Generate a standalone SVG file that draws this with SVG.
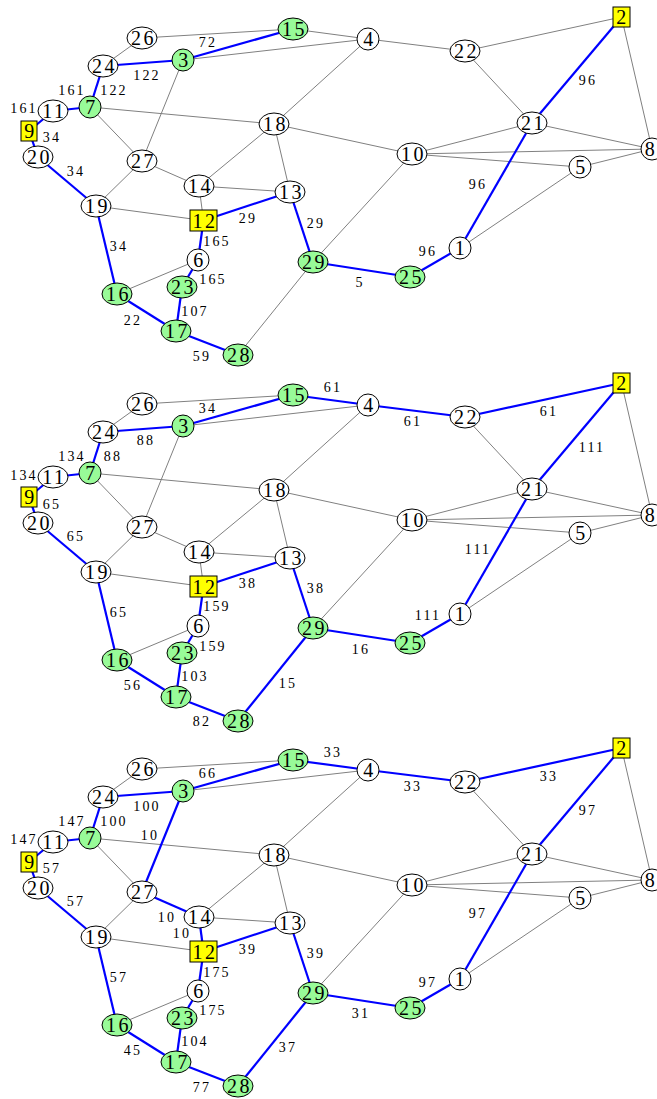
<svg xmlns="http://www.w3.org/2000/svg" width="657" height="1099" viewBox="0 0 657 1099">
<style>
  .bg { fill: #ffffff; }
  .e { stroke: #808080; stroke-width: 1; fill: none; }
  .b { stroke: #0000ff; stroke-width: 2.2; fill: none; }
  .w { fill: #ffffff; stroke: #000000; stroke-width: 1; }
  .g { fill: #98fb98; stroke: #000000; stroke-width: 1; }
  .y { fill: #ffff00; stroke: #000000; stroke-width: 1; }
  .nt { font-family: "Liberation Serif", "Times New Roman", serif; font-size: 20px; letter-spacing: 2.5px; text-anchor: middle; fill: #000000; }
  .lt { font-family: "Liberation Serif", "Times New Roman", serif; font-size: 14px; letter-spacing: 2.2px; text-anchor: middle; fill: #000000; }
</style>
<rect class="bg" x="0" y="0" width="657" height="1099"/>

<!-- ===== Panel 1 ===== -->
<g id="panel1" transform="translate(0,0)">
  <g id="p1-edges">
    <line class="e" x1="142" y1="38" x2="103" y2="66"/>
    <line class="e" x1="142" y1="38" x2="293" y2="29"/>
    <line class="e" x1="183" y1="60" x2="368" y2="39"/>
    <line class="e" x1="293" y1="29" x2="368" y2="39"/>
    <line class="e" x1="368" y1="39" x2="465" y2="51"/>
    <line class="e" x1="368" y1="39" x2="274" y2="124"/>
    <line class="e" x1="465" y1="51" x2="621.5" y2="17"/>
    <line class="e" x1="465" y1="51" x2="532" y2="123"/>
    <line class="e" x1="621.5" y1="17" x2="652" y2="149"/>
    <line class="e" x1="532" y1="123" x2="412" y2="154"/>
    <line class="e" x1="532" y1="123" x2="652" y2="149"/>
    <line class="e" x1="412" y1="154" x2="652" y2="149"/>
    <line class="e" x1="412" y1="154" x2="580" y2="167"/>
    <line class="e" x1="580" y1="167" x2="652" y2="149"/>
    <line class="e" x1="580" y1="167" x2="460" y2="248"/>
    <line class="e" x1="412" y1="154" x2="274" y2="124"/>
    <line class="e" x1="412" y1="154" x2="313" y2="262"/>
    <line class="e" x1="313" y1="262" x2="238" y2="355"/>
    <line class="e" x1="290" y1="192" x2="274" y2="124"/>
    <line class="e" x1="290" y1="192" x2="199" y2="186"/>
    <line class="e" x1="274" y1="124" x2="199" y2="186"/>
    <line class="e" x1="274" y1="124" x2="90" y2="107"/>
    <line class="e" x1="199" y1="186" x2="142" y2="161"/>
    <line class="e" x1="199" y1="186" x2="203.5" y2="220.5"/>
    <line class="e" x1="142" y1="161" x2="183" y2="60"/>
    <line class="e" x1="142" y1="161" x2="90" y2="107"/>
    <line class="e" x1="142" y1="161" x2="96" y2="206"/>
    <line class="e" x1="96" y1="206" x2="203.5" y2="220.5"/>
    <line class="e" x1="198" y1="260" x2="117" y2="294"/>
    <line class="b" x1="103" y1="66" x2="183" y2="60"/>
    <line class="b" x1="183" y1="60" x2="293" y2="29"/>
    <line class="b" x1="621.5" y1="17" x2="532" y2="123"/>
    <line class="b" x1="532" y1="123" x2="460" y2="248"/>
    <line class="b" x1="460" y1="248" x2="410" y2="277"/>
    <line class="b" x1="410" y1="277" x2="313" y2="262"/>
    <line class="b" x1="313" y1="262" x2="290" y2="192"/>
    <line class="b" x1="290" y1="192" x2="203.5" y2="220.5"/>
    <line class="b" x1="96" y1="206" x2="38" y2="157"/>
    <line class="b" x1="96" y1="206" x2="117" y2="294"/>
    <line class="b" x1="38" y1="157" x2="29" y2="131"/>
    <line class="b" x1="29" y1="131" x2="53" y2="111"/>
    <line class="b" x1="53" y1="111" x2="90" y2="107"/>
    <line class="b" x1="90" y1="107" x2="103" y2="66"/>
    <line class="b" x1="203.5" y1="220.5" x2="198" y2="260"/>
    <line class="b" x1="198" y1="260" x2="182" y2="287"/>
    <line class="b" x1="182" y1="287" x2="176" y2="331"/>
    <line class="b" x1="117" y1="294" x2="176" y2="331"/>
    <line class="b" x1="176" y1="331" x2="238" y2="355"/>
  </g>
  <g id="p1-edge-labels">
    <text class="lt" x="208" y="47">72</text>
    <text class="lt" x="147" y="80">122</text>
    <text class="lt" x="114" y="95">122</text>
    <text class="lt" x="72" y="95">161</text>
    <text class="lt" x="24" y="113">161</text>
    <text class="lt" x="52" y="142">34</text>
    <text class="lt" x="76" y="176">34</text>
    <text class="lt" x="119" y="251">34</text>
    <text class="lt" x="248" y="223">29</text>
    <text class="lt" x="217" y="246">165</text>
    <text class="lt" x="316" y="228">29</text>
    <text class="lt" x="213" y="284">165</text>
    <text class="lt" x="195" y="316">107</text>
    <text class="lt" x="133" y="325">22</text>
    <text class="lt" x="202" y="361">59</text>
    <text class="lt" x="588" y="85">96</text>
    <text class="lt" x="478" y="189">96</text>
    <text class="lt" x="428" y="256">96</text>
    <text class="lt" x="360" y="287">5</text>
  </g>
  <g id="p1-n1"><ellipse class="w" cx="460" cy="248" rx="11" ry="11"/><text class="nt" x="461" y="255">1</text></g>
  <g id="p1-n2"><rect class="y" x="613" y="7" width="17" height="20"/><text class="nt" x="622.5" y="24">2</text></g>
  <g id="p1-n3"><ellipse class="g" cx="183" cy="60" rx="11" ry="11"/><text class="nt" x="184.5" y="67">3</text></g>
  <g id="p1-n4"><ellipse class="w" cx="368" cy="39" rx="11" ry="11"/><text class="nt" x="369.5" y="46">4</text></g>
  <g id="p1-n5"><ellipse class="w" cx="580" cy="167" rx="11" ry="11"/><text class="nt" x="581.5" y="174">5</text></g>
  <g id="p1-n6"><ellipse class="w" cx="198" cy="260" rx="11" ry="11"/><text class="nt" x="199.5" y="267">6</text></g>
  <g id="p1-n7"><ellipse class="g" cx="90" cy="107" rx="11" ry="11"/><text class="nt" x="91.5" y="114">7</text></g>
  <g id="p1-n8"><ellipse class="w" cx="652" cy="149" rx="11" ry="11"/><text class="nt" x="651" y="156">8</text></g>
  <g id="p1-n9"><rect class="y" x="21" y="121" width="16" height="20"/><text class="nt" x="30.5" y="138">9</text></g>
  <g id="p1-n10"><ellipse class="w" cx="412" cy="154" rx="15" ry="11"/><text class="nt" x="413.5" y="161">10</text></g>
  <g id="p1-n11"><ellipse class="w" cx="53" cy="111" rx="15" ry="11"/><text class="nt" x="54.5" y="118">11</text></g>
  <g id="p1-n12"><rect class="y" x="190" y="210" width="27" height="21"/><text class="nt" x="205" y="227.5">12</text></g>
  <g id="p1-n13"><ellipse class="w" cx="290" cy="192" rx="15" ry="11"/><text class="nt" x="291.5" y="199">13</text></g>
  <g id="p1-n14"><ellipse class="w" cx="199" cy="186" rx="15" ry="11"/><text class="nt" x="200.5" y="193">14</text></g>
  <g id="p1-n15"><ellipse class="g" cx="293" cy="29" rx="15" ry="11"/><text class="nt" x="294.5" y="36">15</text></g>
  <g id="p1-n16"><ellipse class="g" cx="117" cy="294" rx="15" ry="11"/><text class="nt" x="118.5" y="301">16</text></g>
  <g id="p1-n17"><ellipse class="g" cx="176" cy="331" rx="15" ry="11"/><text class="nt" x="177.5" y="338">17</text></g>
  <g id="p1-n18"><ellipse class="w" cx="274" cy="124" rx="15" ry="11"/><text class="nt" x="275.5" y="131">18</text></g>
  <g id="p1-n19"><ellipse class="w" cx="96" cy="206" rx="15" ry="11"/><text class="nt" x="97.5" y="213">19</text></g>
  <g id="p1-n20"><ellipse class="w" cx="38" cy="157" rx="15" ry="11"/><text class="nt" x="39.5" y="164">20</text></g>
  <g id="p1-n21"><ellipse class="w" cx="532" cy="123" rx="15" ry="11"/><text class="nt" x="533.5" y="130">21</text></g>
  <g id="p1-n22"><ellipse class="w" cx="465" cy="51" rx="15" ry="11"/><text class="nt" x="466.5" y="58">22</text></g>
  <g id="p1-n23"><ellipse class="g" cx="182" cy="287" rx="15" ry="11"/><text class="nt" x="183.5" y="294">23</text></g>
  <g id="p1-n24"><ellipse class="w" cx="103" cy="66" rx="15" ry="11"/><text class="nt" x="104.5" y="73">24</text></g>
  <g id="p1-n25"><ellipse class="g" cx="410" cy="277" rx="15" ry="11"/><text class="nt" x="411.5" y="284">25</text></g>
  <g id="p1-n26"><ellipse class="w" cx="142" cy="38" rx="15" ry="11"/><text class="nt" x="143.5" y="45">26</text></g>
  <g id="p1-n27"><ellipse class="w" cx="142" cy="161" rx="15" ry="11"/><text class="nt" x="143.5" y="168">27</text></g>
  <g id="p1-n28"><ellipse class="g" cx="238" cy="355" rx="15" ry="11"/><text class="nt" x="239.5" y="362">28</text></g>
  <g id="p1-n29"><ellipse class="g" cx="313" cy="262" rx="15" ry="11"/><text class="nt" x="314.5" y="269">29</text></g>
</g>

<!-- ===== Panel 2 ===== -->
<g id="panel2" transform="translate(0,366)">
  <g id="p2-edges">
    <line class="e" x1="142" y1="38" x2="103" y2="66"/>
    <line class="e" x1="142" y1="38" x2="293" y2="29"/>
    <line class="e" x1="183" y1="60" x2="368" y2="39"/>
    <line class="e" x1="368" y1="39" x2="274" y2="124"/>
    <line class="e" x1="465" y1="51" x2="532" y2="123"/>
    <line class="e" x1="621.5" y1="17" x2="652" y2="149"/>
    <line class="e" x1="532" y1="123" x2="412" y2="154"/>
    <line class="e" x1="532" y1="123" x2="652" y2="149"/>
    <line class="e" x1="412" y1="154" x2="652" y2="149"/>
    <line class="e" x1="412" y1="154" x2="580" y2="167"/>
    <line class="e" x1="580" y1="167" x2="652" y2="149"/>
    <line class="e" x1="580" y1="167" x2="460" y2="248"/>
    <line class="e" x1="412" y1="154" x2="274" y2="124"/>
    <line class="e" x1="412" y1="154" x2="313" y2="262"/>
    <line class="e" x1="290" y1="192" x2="274" y2="124"/>
    <line class="e" x1="290" y1="192" x2="199" y2="186"/>
    <line class="e" x1="274" y1="124" x2="199" y2="186"/>
    <line class="e" x1="274" y1="124" x2="90" y2="107"/>
    <line class="e" x1="199" y1="186" x2="142" y2="161"/>
    <line class="e" x1="199" y1="186" x2="203.5" y2="220.5"/>
    <line class="e" x1="142" y1="161" x2="183" y2="60"/>
    <line class="e" x1="142" y1="161" x2="90" y2="107"/>
    <line class="e" x1="142" y1="161" x2="96" y2="206"/>
    <line class="e" x1="96" y1="206" x2="203.5" y2="220.5"/>
    <line class="e" x1="198" y1="260" x2="117" y2="294"/>
    <line class="b" x1="293" y1="29" x2="368" y2="39"/>
    <line class="b" x1="368" y1="39" x2="465" y2="51"/>
    <line class="b" x1="465" y1="51" x2="621.5" y2="17"/>
    <line class="b" x1="313" y1="262" x2="238" y2="355"/>
    <line class="b" x1="103" y1="66" x2="183" y2="60"/>
    <line class="b" x1="183" y1="60" x2="293" y2="29"/>
    <line class="b" x1="621.5" y1="17" x2="532" y2="123"/>
    <line class="b" x1="532" y1="123" x2="460" y2="248"/>
    <line class="b" x1="460" y1="248" x2="410" y2="277"/>
    <line class="b" x1="410" y1="277" x2="313" y2="262"/>
    <line class="b" x1="313" y1="262" x2="290" y2="192"/>
    <line class="b" x1="290" y1="192" x2="203.5" y2="220.5"/>
    <line class="b" x1="96" y1="206" x2="38" y2="157"/>
    <line class="b" x1="96" y1="206" x2="117" y2="294"/>
    <line class="b" x1="38" y1="157" x2="29" y2="131"/>
    <line class="b" x1="29" y1="131" x2="53" y2="111"/>
    <line class="b" x1="53" y1="111" x2="90" y2="107"/>
    <line class="b" x1="90" y1="107" x2="103" y2="66"/>
    <line class="b" x1="203.5" y1="220.5" x2="198" y2="260"/>
    <line class="b" x1="198" y1="260" x2="182" y2="287"/>
    <line class="b" x1="182" y1="287" x2="176" y2="331"/>
    <line class="b" x1="117" y1="294" x2="176" y2="331"/>
    <line class="b" x1="176" y1="331" x2="238" y2="355"/>
  </g>
  <g id="p2-edge-labels">
    <text class="lt" x="208" y="47">34</text>
    <text class="lt" x="146" y="79">88</text>
    <text class="lt" x="113" y="95">88</text>
    <text class="lt" x="72" y="95">134</text>
    <text class="lt" x="24" y="114">134</text>
    <text class="lt" x="52" y="143">65</text>
    <text class="lt" x="76" y="175">65</text>
    <text class="lt" x="119" y="251">65</text>
    <text class="lt" x="248" y="222">38</text>
    <text class="lt" x="217" y="245">159</text>
    <text class="lt" x="316" y="227">38</text>
    <text class="lt" x="213" y="285">159</text>
    <text class="lt" x="195" y="315">103</text>
    <text class="lt" x="133" y="324">56</text>
    <text class="lt" x="202" y="360">82</text>
    <text class="lt" x="288" y="322">15</text>
    <text class="lt" x="333" y="26">61</text>
    <text class="lt" x="413" y="60">61</text>
    <text class="lt" x="549" y="50">61</text>
    <text class="lt" x="592" y="86">111</text>
    <text class="lt" x="478" y="188">111</text>
    <text class="lt" x="428" y="254">111</text>
    <text class="lt" x="361" y="288">16</text>
  </g>
  <g id="p2-n1"><ellipse class="w" cx="460" cy="248" rx="11" ry="11"/><text class="nt" x="461" y="255">1</text></g>
  <g id="p2-n2"><rect class="y" x="613" y="7" width="17" height="20"/><text class="nt" x="622.5" y="24">2</text></g>
  <g id="p2-n3"><ellipse class="g" cx="183" cy="60" rx="11" ry="11"/><text class="nt" x="184.5" y="67">3</text></g>
  <g id="p2-n4"><ellipse class="w" cx="368" cy="39" rx="11" ry="11"/><text class="nt" x="369.5" y="46">4</text></g>
  <g id="p2-n5"><ellipse class="w" cx="580" cy="167" rx="11" ry="11"/><text class="nt" x="581.5" y="174">5</text></g>
  <g id="p2-n6"><ellipse class="w" cx="198" cy="260" rx="11" ry="11"/><text class="nt" x="199.5" y="267">6</text></g>
  <g id="p2-n7"><ellipse class="g" cx="90" cy="107" rx="11" ry="11"/><text class="nt" x="91.5" y="114">7</text></g>
  <g id="p2-n8"><ellipse class="w" cx="652" cy="149" rx="11" ry="11"/><text class="nt" x="651" y="156">8</text></g>
  <g id="p2-n9"><rect class="y" x="21" y="121" width="16" height="20"/><text class="nt" x="30.5" y="138">9</text></g>
  <g id="p2-n10"><ellipse class="w" cx="412" cy="154" rx="15" ry="11"/><text class="nt" x="413.5" y="161">10</text></g>
  <g id="p2-n11"><ellipse class="w" cx="53" cy="111" rx="15" ry="11"/><text class="nt" x="54.5" y="118">11</text></g>
  <g id="p2-n12"><rect class="y" x="190" y="210" width="27" height="21"/><text class="nt" x="205" y="227.5">12</text></g>
  <g id="p2-n13"><ellipse class="w" cx="290" cy="192" rx="15" ry="11"/><text class="nt" x="291.5" y="199">13</text></g>
  <g id="p2-n14"><ellipse class="w" cx="199" cy="186" rx="15" ry="11"/><text class="nt" x="200.5" y="193">14</text></g>
  <g id="p2-n15"><ellipse class="g" cx="293" cy="29" rx="15" ry="11"/><text class="nt" x="294.5" y="36">15</text></g>
  <g id="p2-n16"><ellipse class="g" cx="117" cy="294" rx="15" ry="11"/><text class="nt" x="118.5" y="301">16</text></g>
  <g id="p2-n17"><ellipse class="g" cx="176" cy="331" rx="15" ry="11"/><text class="nt" x="177.5" y="338">17</text></g>
  <g id="p2-n18"><ellipse class="w" cx="274" cy="124" rx="15" ry="11"/><text class="nt" x="275.5" y="131">18</text></g>
  <g id="p2-n19"><ellipse class="w" cx="96" cy="206" rx="15" ry="11"/><text class="nt" x="97.5" y="213">19</text></g>
  <g id="p2-n20"><ellipse class="w" cx="38" cy="157" rx="15" ry="11"/><text class="nt" x="39.5" y="164">20</text></g>
  <g id="p2-n21"><ellipse class="w" cx="532" cy="123" rx="15" ry="11"/><text class="nt" x="533.5" y="130">21</text></g>
  <g id="p2-n22"><ellipse class="w" cx="465" cy="51" rx="15" ry="11"/><text class="nt" x="466.5" y="58">22</text></g>
  <g id="p2-n23"><ellipse class="g" cx="182" cy="287" rx="15" ry="11"/><text class="nt" x="183.5" y="294">23</text></g>
  <g id="p2-n24"><ellipse class="w" cx="103" cy="66" rx="15" ry="11"/><text class="nt" x="104.5" y="73">24</text></g>
  <g id="p2-n25"><ellipse class="g" cx="410" cy="277" rx="15" ry="11"/><text class="nt" x="411.5" y="284">25</text></g>
  <g id="p2-n26"><ellipse class="w" cx="142" cy="38" rx="15" ry="11"/><text class="nt" x="143.5" y="45">26</text></g>
  <g id="p2-n27"><ellipse class="w" cx="142" cy="161" rx="15" ry="11"/><text class="nt" x="143.5" y="168">27</text></g>
  <g id="p2-n28"><ellipse class="g" cx="238" cy="355" rx="15" ry="11"/><text class="nt" x="239.5" y="362">28</text></g>
  <g id="p2-n29"><ellipse class="g" cx="313" cy="262" rx="15" ry="11"/><text class="nt" x="314.5" y="269">29</text></g>
</g>

<!-- ===== Panel 3 ===== -->
<g id="panel3" transform="translate(0,731)">
  <g id="p3-edges">
    <line class="e" x1="142" y1="38" x2="103" y2="66"/>
    <line class="e" x1="142" y1="38" x2="293" y2="29"/>
    <line class="e" x1="183" y1="60" x2="368" y2="39"/>
    <line class="e" x1="368" y1="39" x2="274" y2="124"/>
    <line class="e" x1="465" y1="51" x2="532" y2="123"/>
    <line class="e" x1="621.5" y1="17" x2="652" y2="149"/>
    <line class="e" x1="532" y1="123" x2="412" y2="154"/>
    <line class="e" x1="532" y1="123" x2="652" y2="149"/>
    <line class="e" x1="412" y1="154" x2="652" y2="149"/>
    <line class="e" x1="412" y1="154" x2="580" y2="167"/>
    <line class="e" x1="580" y1="167" x2="652" y2="149"/>
    <line class="e" x1="580" y1="167" x2="460" y2="248"/>
    <line class="e" x1="412" y1="154" x2="274" y2="124"/>
    <line class="e" x1="412" y1="154" x2="313" y2="262"/>
    <line class="e" x1="290" y1="192" x2="274" y2="124"/>
    <line class="e" x1="290" y1="192" x2="199" y2="186"/>
    <line class="e" x1="274" y1="124" x2="199" y2="186"/>
    <line class="e" x1="274" y1="124" x2="90" y2="107"/>
    <line class="e" x1="142" y1="161" x2="90" y2="107"/>
    <line class="e" x1="142" y1="161" x2="96" y2="206"/>
    <line class="e" x1="96" y1="206" x2="203.5" y2="220.5"/>
    <line class="e" x1="198" y1="260" x2="117" y2="294"/>
    <line class="b" x1="199" y1="186" x2="142" y2="161"/>
    <line class="b" x1="199" y1="186" x2="203.5" y2="220.5"/>
    <line class="b" x1="142" y1="161" x2="183" y2="60"/>
    <line class="b" x1="293" y1="29" x2="368" y2="39"/>
    <line class="b" x1="368" y1="39" x2="465" y2="51"/>
    <line class="b" x1="465" y1="51" x2="621.5" y2="17"/>
    <line class="b" x1="313" y1="262" x2="238" y2="355"/>
    <line class="b" x1="103" y1="66" x2="183" y2="60"/>
    <line class="b" x1="183" y1="60" x2="293" y2="29"/>
    <line class="b" x1="621.5" y1="17" x2="532" y2="123"/>
    <line class="b" x1="532" y1="123" x2="460" y2="248"/>
    <line class="b" x1="460" y1="248" x2="410" y2="277"/>
    <line class="b" x1="410" y1="277" x2="313" y2="262"/>
    <line class="b" x1="313" y1="262" x2="290" y2="192"/>
    <line class="b" x1="290" y1="192" x2="203.5" y2="220.5"/>
    <line class="b" x1="96" y1="206" x2="38" y2="157"/>
    <line class="b" x1="96" y1="206" x2="117" y2="294"/>
    <line class="b" x1="38" y1="157" x2="29" y2="131"/>
    <line class="b" x1="29" y1="131" x2="53" y2="111"/>
    <line class="b" x1="53" y1="111" x2="90" y2="107"/>
    <line class="b" x1="90" y1="107" x2="103" y2="66"/>
    <line class="b" x1="203.5" y1="220.5" x2="198" y2="260"/>
    <line class="b" x1="198" y1="260" x2="182" y2="287"/>
    <line class="b" x1="182" y1="287" x2="176" y2="331"/>
    <line class="b" x1="117" y1="294" x2="176" y2="331"/>
    <line class="b" x1="176" y1="331" x2="238" y2="355"/>
  </g>
  <g id="p3-edge-labels">
    <text class="lt" x="208" y="47">66</text>
    <text class="lt" x="147" y="80">100</text>
    <text class="lt" x="114" y="95">100</text>
    <text class="lt" x="72" y="95">147</text>
    <text class="lt" x="24" y="113">147</text>
    <text class="lt" x="52" y="142">57</text>
    <text class="lt" x="76" y="175">57</text>
    <text class="lt" x="150" y="109">10</text>
    <text class="lt" x="167" y="191">10</text>
    <text class="lt" x="182" y="207">10</text>
    <text class="lt" x="119" y="251">57</text>
    <text class="lt" x="248" y="223">39</text>
    <text class="lt" x="217" y="246">175</text>
    <text class="lt" x="316" y="227">39</text>
    <text class="lt" x="213" y="284">175</text>
    <text class="lt" x="195" y="315">104</text>
    <text class="lt" x="133" y="324">45</text>
    <text class="lt" x="202" y="361">77</text>
    <text class="lt" x="288" y="321">37</text>
    <text class="lt" x="333" y="26">33</text>
    <text class="lt" x="413" y="60">33</text>
    <text class="lt" x="549" y="50">33</text>
    <text class="lt" x="588" y="84">97</text>
    <text class="lt" x="478" y="187">97</text>
    <text class="lt" x="428" y="256">97</text>
    <text class="lt" x="361" y="287">31</text>
  </g>
  <g id="p3-n1"><ellipse class="w" cx="460" cy="248" rx="11" ry="11"/><text class="nt" x="461" y="255">1</text></g>
  <g id="p3-n2"><rect class="y" x="613" y="7" width="17" height="20"/><text class="nt" x="622.5" y="24">2</text></g>
  <g id="p3-n3"><ellipse class="g" cx="183" cy="60" rx="11" ry="11"/><text class="nt" x="184.5" y="67">3</text></g>
  <g id="p3-n4"><ellipse class="w" cx="368" cy="39" rx="11" ry="11"/><text class="nt" x="369.5" y="46">4</text></g>
  <g id="p3-n5"><ellipse class="w" cx="580" cy="167" rx="11" ry="11"/><text class="nt" x="581.5" y="174">5</text></g>
  <g id="p3-n6"><ellipse class="w" cx="198" cy="260" rx="11" ry="11"/><text class="nt" x="199.5" y="267">6</text></g>
  <g id="p3-n7"><ellipse class="g" cx="90" cy="107" rx="11" ry="11"/><text class="nt" x="91.5" y="114">7</text></g>
  <g id="p3-n8"><ellipse class="w" cx="652" cy="149" rx="11" ry="11"/><text class="nt" x="651" y="156">8</text></g>
  <g id="p3-n9"><rect class="y" x="21" y="121" width="16" height="20"/><text class="nt" x="30.5" y="138">9</text></g>
  <g id="p3-n10"><ellipse class="w" cx="412" cy="154" rx="15" ry="11"/><text class="nt" x="413.5" y="161">10</text></g>
  <g id="p3-n11"><ellipse class="w" cx="53" cy="111" rx="15" ry="11"/><text class="nt" x="54.5" y="118">11</text></g>
  <g id="p3-n12"><rect class="y" x="190" y="210" width="27" height="21"/><text class="nt" x="205" y="227.5">12</text></g>
  <g id="p3-n13"><ellipse class="w" cx="290" cy="192" rx="15" ry="11"/><text class="nt" x="291.5" y="199">13</text></g>
  <g id="p3-n14"><ellipse class="w" cx="199" cy="186" rx="15" ry="11"/><text class="nt" x="200.5" y="193">14</text></g>
  <g id="p3-n15"><ellipse class="g" cx="293" cy="29" rx="15" ry="11"/><text class="nt" x="294.5" y="36">15</text></g>
  <g id="p3-n16"><ellipse class="g" cx="117" cy="294" rx="15" ry="11"/><text class="nt" x="118.5" y="301">16</text></g>
  <g id="p3-n17"><ellipse class="g" cx="176" cy="331" rx="15" ry="11"/><text class="nt" x="177.5" y="338">17</text></g>
  <g id="p3-n18"><ellipse class="w" cx="274" cy="124" rx="15" ry="11"/><text class="nt" x="275.5" y="131">18</text></g>
  <g id="p3-n19"><ellipse class="w" cx="96" cy="206" rx="15" ry="11"/><text class="nt" x="97.5" y="213">19</text></g>
  <g id="p3-n20"><ellipse class="w" cx="38" cy="157" rx="15" ry="11"/><text class="nt" x="39.5" y="164">20</text></g>
  <g id="p3-n21"><ellipse class="w" cx="532" cy="123" rx="15" ry="11"/><text class="nt" x="533.5" y="130">21</text></g>
  <g id="p3-n22"><ellipse class="w" cx="465" cy="51" rx="15" ry="11"/><text class="nt" x="466.5" y="58">22</text></g>
  <g id="p3-n23"><ellipse class="g" cx="182" cy="287" rx="15" ry="11"/><text class="nt" x="183.5" y="294">23</text></g>
  <g id="p3-n24"><ellipse class="w" cx="103" cy="66" rx="15" ry="11"/><text class="nt" x="104.5" y="73">24</text></g>
  <g id="p3-n25"><ellipse class="g" cx="410" cy="277" rx="15" ry="11"/><text class="nt" x="411.5" y="284">25</text></g>
  <g id="p3-n26"><ellipse class="w" cx="142" cy="38" rx="15" ry="11"/><text class="nt" x="143.5" y="45">26</text></g>
  <g id="p3-n27"><ellipse class="w" cx="142" cy="161" rx="15" ry="11"/><text class="nt" x="143.5" y="168">27</text></g>
  <g id="p3-n28"><ellipse class="g" cx="238" cy="355" rx="15" ry="11"/><text class="nt" x="239.5" y="362">28</text></g>
  <g id="p3-n29"><ellipse class="g" cx="313" cy="262" rx="15" ry="11"/><text class="nt" x="314.5" y="269">29</text></g>
</g>
</svg>
